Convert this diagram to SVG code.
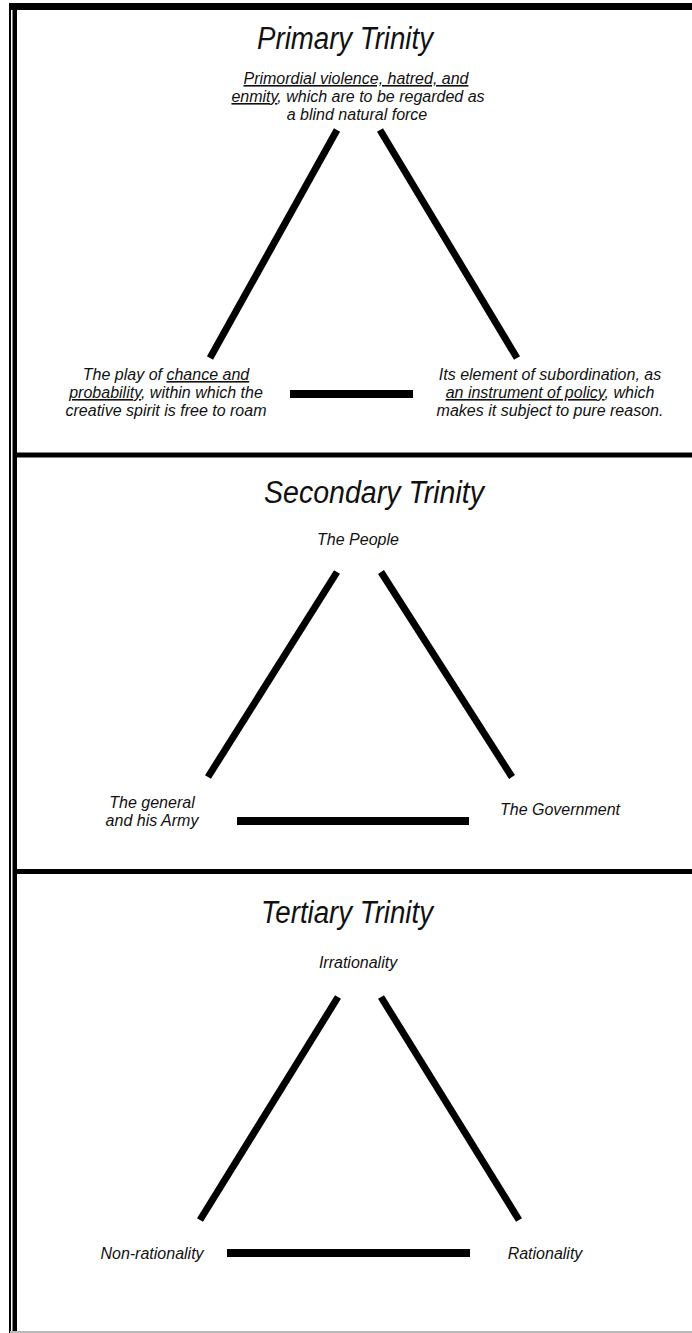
<svg xmlns="http://www.w3.org/2000/svg" width="692" height="1333" viewBox="0 0 692 1333">
<style>
text{font-family:"Liberation Sans",Arial,sans-serif;font-style:italic;fill:#111;text-anchor:middle}
.t{font-size:31px}
.l{font-size:16px}
.u{text-decoration:underline}
.leg{stroke:#000;stroke-width:7;fill:none;stroke-linecap:butt}
.bar{stroke:#000;stroke-width:8;fill:none}
</style>
<rect width="692" height="1333" fill="#fff"/>
<g id="frame">
<rect x="10" y="3" width="682" height="7" fill="#000"/>
<rect x="9" y="3" width="2" height="1330" fill="#000"/>
<rect x="12.5" y="3" width="4.5" height="1330" fill="#000"/>
<rect x="17" y="452.5" width="675" height="5" fill="#000"/>
<rect x="17" y="869" width="675" height="5" fill="#000"/>
<rect x="10" y="1331" width="682" height="2" fill="#bbb"/>
</g>
<g id="titles">
<text id="title-primary" class="t" x="345" y="49" textLength="176" lengthAdjust="spacingAndGlyphs">Primary Trinity</text>
<text id="title-secondary" class="t" x="374" y="503" textLength="220" lengthAdjust="spacingAndGlyphs">Secondary Trinity</text>
<text id="title-tertiary" class="t" x="347" y="923" textLength="172" lengthAdjust="spacingAndGlyphs">Tertiary Trinity</text>
</g>
<g id="connectors">
<line class="leg" x1="337" y1="130" x2="210" y2="358"/>
<line class="leg" x1="380" y1="130" x2="517" y2="358"/>
<line class="bar" x1="290" y1="394" x2="413" y2="394"/>
<line class="leg" x1="337" y1="572" x2="208" y2="777"/>
<line class="leg" x1="381" y1="572" x2="512" y2="777"/>
<line class="bar" x1="237" y1="821" x2="469" y2="821"/>
<line class="leg" x1="338" y1="997" x2="200" y2="1220"/>
<line class="leg" x1="381" y1="997" x2="519" y2="1220"/>
<line class="bar" x1="227" y1="1253" x2="470" y2="1253"/>
</g>
<g id="node-violence">
<text class="l" x="356" y="84"><tspan class="u">Primordial violence, hatred, and</tspan></text>
<text class="l" x="358" y="102"><tspan class="u">enmity</tspan>, which are to be regarded as</text>
<text class="l" x="357" y="120">a blind natural force</text>
</g>
<g id="node-chance">
<text class="l" x="166" y="380">The play of <tspan class="u">chance and</tspan></text>
<text class="l" x="166" y="398"><tspan class="u">probability</tspan>, within which the</text>
<text class="l" x="166" y="416">creative spirit is free to roam</text>
</g>
<g id="node-policy">
<text class="l" x="550" y="380">Its element of subordination, as</text>
<text class="l" x="550" y="398"><tspan class="u">an instrument of policy</tspan>, which</text>
<text class="l" x="550" y="416">makes it subject to pure reason.</text>
</g>
<g id="node-people">
<text class="l" x="358" y="545">The People</text>
</g>
<g id="node-army">
<text class="l" x="152" y="808">The general</text>
<text class="l" x="152" y="826">and his Army</text>
</g>
<g id="node-government">
<text class="l" x="560" y="815">The Government</text>
</g>
<g id="node-irrationality">
<text class="l" x="358" y="968">Irrationality</text>
</g>
<g id="node-nonrationality">
<text class="l" x="152" y="1259">Non-rationality</text>
</g>
<g id="node-rationality">
<text class="l" x="545" y="1259">Rationality</text>
</g>
</svg>
